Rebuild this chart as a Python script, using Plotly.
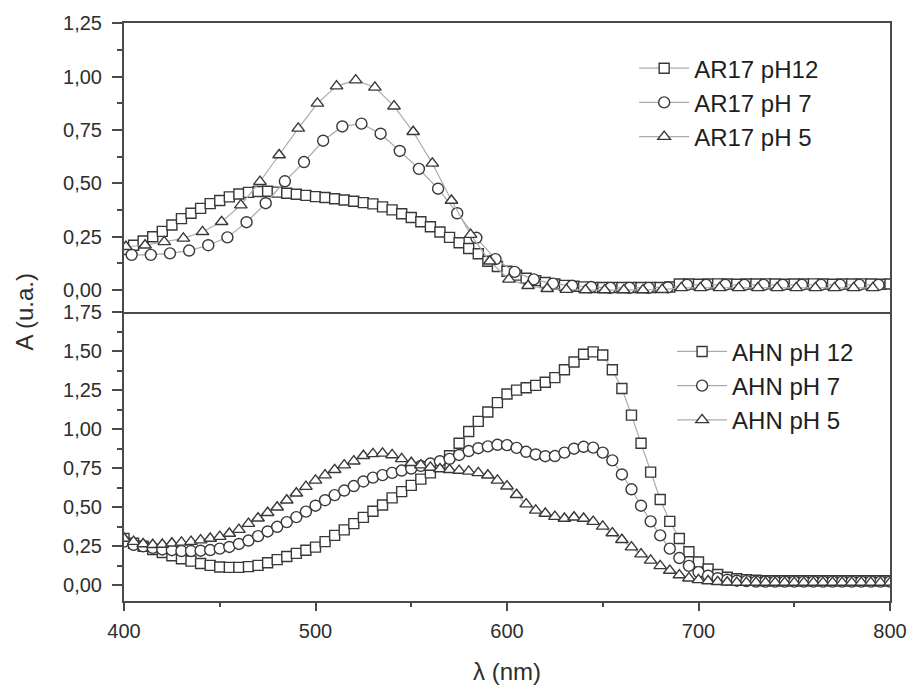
import plotly.graph_objects as go

# ---------------- data ----------------
x_5nm = list(range(400, 801, 5))
x_ar17_ph7 = list(range(404, 795, 10))
x_ar17_ph5 = list(range(401, 792, 10))

ar17_ph12 = [0.19, 0.21, 0.23, 0.25, 0.275, 0.305, 0.335, 0.36, 0.383, 0.405,
             0.42, 0.437, 0.45, 0.458, 0.462, 0.463, 0.459, 0.454, 0.449, 0.444,
             0.438, 0.434, 0.428, 0.422, 0.416, 0.41, 0.404, 0.39, 0.376, 0.358,
             0.34, 0.32, 0.297, 0.272, 0.247, 0.222, 0.195, 0.17, 0.135, 0.11,
             0.088, 0.07, 0.055, 0.044, 0.035, 0.028, 0.022, 0.018, 0.015, 0.012,
             0.012, 0.012, 0.012, 0.012, 0.012, 0.012, 0.012, 0.014, 0.028,
             0.028, 0.027, 0.028, 0.029, 0.028, 0.027, 0.028, 0.028, 0.029, 0.028,
             0.027, 0.028, 0.028, 0.029, 0.028, 0.027, 0.028, 0.028, 0.029, 0.028,
             0.027, 0.028]

ar17_ph7 = [0.165, 0.165, 0.172, 0.185, 0.21, 0.247, 0.318, 0.407, 0.51, 0.60,
            0.70, 0.767, 0.78, 0.733, 0.652, 0.568, 0.475, 0.36, 0.245, 0.145,
            0.085, 0.05, 0.03, 0.02, 0.014, 0.01, 0.01, 0.01, 0.012, 0.024,
            0.024, 0.024, 0.024, 0.024, 0.024, 0.024, 0.024, 0.024, 0.024, 0.024]

ar17_ph5 = [0.203, 0.21, 0.226, 0.242, 0.273, 0.32, 0.398, 0.508, 0.633, 0.758,
            0.875, 0.956, 0.984, 0.95, 0.862, 0.742, 0.594, 0.42, 0.26, 0.135,
            0.05, 0.02, 0.006, 0.002, 0.0, 0.0, 0.0, 0.0, 0.002, 0.01,
            0.01, 0.01, 0.01, 0.01, 0.01, 0.01, 0.01, 0.01, 0.01, 0.01]

ahn_ph12 = [0.30, 0.27, 0.25, 0.23, 0.21, 0.19, 0.17, 0.155, 0.14, 0.128,
            0.118, 0.115, 0.115, 0.12, 0.128, 0.145, 0.165, 0.185, 0.205, 0.225,
            0.245, 0.28, 0.32, 0.355, 0.395, 0.435, 0.475, 0.515, 0.56, 0.60,
            0.64, 0.68, 0.72, 0.77, 0.83, 0.91, 0.985, 1.05, 1.11, 1.17,
            1.225, 1.25, 1.265, 1.28, 1.30, 1.33, 1.38, 1.43, 1.48, 1.495,
            1.475, 1.38, 1.26, 1.09, 0.91, 0.725, 0.55, 0.41, 0.30, 0.215,
            0.15, 0.105, 0.07, 0.052, 0.042, 0.036, 0.033,
            0.03, 0.03, 0.03, 0.03, 0.03, 0.03, 0.03, 0.03, 0.03, 0.03,
            0.03, 0.03, 0.03, 0.03]

ahn_ph7 = [0.28, 0.26, 0.25, 0.24, 0.23, 0.225, 0.22, 0.22, 0.222, 0.226,
           0.235, 0.246, 0.265, 0.287, 0.315, 0.345, 0.375, 0.405, 0.437, 0.472,
           0.51, 0.545, 0.578, 0.607, 0.636, 0.665, 0.69, 0.706, 0.72, 0.735,
           0.748, 0.765, 0.78, 0.795, 0.81, 0.835, 0.86, 0.878, 0.89, 0.90,
           0.898, 0.88, 0.855, 0.838, 0.827, 0.828, 0.85, 0.875, 0.887, 0.882,
           0.85, 0.80, 0.71, 0.615, 0.51, 0.41, 0.32, 0.235, 0.175, 0.125,
           0.085, 0.062, 0.046, 0.036, 0.03, 0.027,
           0.024, 0.024, 0.024, 0.024, 0.024, 0.024, 0.024, 0.024, 0.024, 0.024,
           0.024, 0.024, 0.024, 0.024, 0.024]

ahn_ph5 = [0.30, 0.28, 0.265, 0.26, 0.262, 0.27, 0.275, 0.28, 0.29, 0.30,
           0.312, 0.332, 0.357, 0.395, 0.43, 0.465, 0.50, 0.545, 0.59, 0.632,
           0.672, 0.706, 0.74, 0.77, 0.795, 0.83, 0.842, 0.845, 0.835, 0.81,
           0.785, 0.77, 0.755, 0.745, 0.74, 0.735, 0.73, 0.72, 0.705, 0.672,
           0.635, 0.58, 0.52, 0.48, 0.46, 0.44, 0.428, 0.436, 0.428, 0.408,
           0.378, 0.335, 0.292, 0.245, 0.20, 0.16, 0.125, 0.095, 0.066, 0.046,
           0.035, 0.028, 0.023, 0.02,
           0.018, 0.018, 0.018, 0.018, 0.018, 0.018, 0.018, 0.018, 0.018, 0.018,
           0.018, 0.018, 0.018, 0.018, 0.018, 0.018, 0.018]

x_tickvals = [400, 500, 600, 700, 800]
x_ticktext = ["400", "500", "600", "700", "800"]
x_minor = [450, 550, 650, 750]
top_tickvals = [0.0, 0.25, 0.5, 0.75, 1.0, 1.25]
top_ticktext = ["0,00", "0,25", "0,50", "0,75", "1,00", "1,25"]
top_minor = [0.125, 0.375, 0.625, 0.875, 1.125]
bot_tickvals = [0.0, 0.25, 0.5, 0.75, 1.0, 1.25, 1.5, 1.75]
bot_ticktext = ["0,00", "0,25", "0,50", "0,75", "1,00", "1,25", "1,50", "1,75"]
bot_minor = [0.125, 0.375, 0.625, 0.875, 1.125, 1.375, 1.625]

# ---------------- style ----------------
FONT = "Liberation Sans, Arial, sans-serif"
MK = "#383838"
LN = "#ababab"
AX = "#4a4a4a"


def series(x, y, name, symbol, size, xa, ya, legend):
    return go.Scatter(
        x=x, y=y, name=name, mode="lines+markers",
        xaxis=xa, yaxis=ya, legend=legend,
        line=dict(color=LN, width=1.2),
        marker=dict(symbol=symbol, size=size, color="white",
                    line=dict(color=MK, width=1.4)),
    )


fig = go.Figure()
fig.add_trace(series(x_5nm, ar17_ph12, "AR17 pH12", "square", 10, "x2", "y2", "legend2"))
fig.add_trace(series(x_ar17_ph7, ar17_ph7, "AR17 pH 7", "circle", 11, "x2", "y2", "legend2"))
fig.add_trace(series(x_ar17_ph5, ar17_ph5, "AR17 pH 5", "triangle-up", 11, "x2", "y2", "legend2"))
fig.add_trace(series(x_5nm, ahn_ph12, "AHN pH 12", "square", 10, "x", "y", "legend"))
fig.add_trace(series(x_5nm, ahn_ph7, "AHN pH 7", "circle", 11, "x", "y", "legend"))
fig.add_trace(series(x_5nm, ahn_ph5, "AHN pH 5", "triangle-up", 11, "x", "y", "legend"))

tickfont = dict(family=FONT, size=20, color="#2e2e2e")
common_y = dict(showline=True, linecolor=AX, linewidth=2, mirror=True,
                ticks="outside", ticklen=10, tickwidth=1.5, tickcolor=AX,
                showgrid=False, zeroline=False, tickmode="array",
                tickfont=tickfont, ticklabelstandoff=6, automargin=False)

fig.update_layout(
    width=912, height=687,
    margin=dict(l=124, r=22, t=23, b=86, autoexpand=False),
    paper_bgcolor="white", plot_bgcolor="white",
    showlegend=True,
    xaxis=dict(domain=[0, 1], anchor="y", range=[400, 800],
               showline=True, linecolor=AX, linewidth=2, mirror=False,
               ticks="outside", ticklen=8, tickwidth=1.5, tickcolor=AX,
               tickmode="array", tickvals=x_tickvals, ticktext=x_ticktext,
               minor=dict(tickvals=x_minor, ticks="outside", ticklen=4,
                          tickwidth=1.5, tickcolor=AX),
               showgrid=False, zeroline=False, tickfont=tickfont,
               ticklabelstandoff=3, automargin=False),
    xaxis2=dict(domain=[0, 1], anchor="y2", range=[400, 800], matches="x",
                showline=True, linecolor=AX, linewidth=2, mirror=True,
                ticks="", showticklabels=False, showgrid=False, zeroline=False,
                automargin=False),
    yaxis=dict(domain=[0, 0.5], anchor="x", range=[-0.1, 1.75],
               tickvals=bot_tickvals, ticktext=bot_ticktext,
               minor=dict(tickvals=bot_minor, ticks="outside", ticklen=5,
                          tickwidth=1.5, tickcolor=AX),
               **common_y),
    yaxis2=dict(domain=[0.5, 1], anchor="x2", range=[-0.103, 1.252],
                tickvals=top_tickvals, ticktext=top_ticktext,
                minor=dict(tickvals=top_minor, ticks="outside", ticklen=5,
                           tickwidth=1.5, tickcolor=AX),
                **common_y),
    legend2=dict(x=0.666, y=0.960, xanchor="left", yanchor="top",
                 bgcolor="rgba(0,0,0,0)", itemwidth=50,
                 font=dict(family=FONT, size=24, color="#1e1e1e")),
    legend=dict(x=0.7155, y=0.470, xanchor="left", yanchor="top",
                bgcolor="rgba(0,0,0,0)", itemwidth=50,
                font=dict(family=FONT, size=24, color="#1e1e1e")),
    annotations=[
        dict(text="λ (nm)", xref="paper", yref="paper", x=0.5, y=-0.1228,
             xanchor="center", yanchor="middle", showarrow=False,
             font=dict(family=FONT, size=24, color="#2e2e2e")),
        dict(text="A (u.a.)", xref="paper", yref="paper", x=-0.13, y=0.5,
             xanchor="center", yanchor="middle", showarrow=False, textangle=-90,
             font=dict(family=FONT, size=24, color="#2e2e2e")),
    ],
)

# remove the browser's default 8px body margin so the figure fills the window
fig.write_html(
    "out.html",
    config={"displayModeBar": False},
    post_script="document.body.style.margin='0';document.body.style.overflow='hidden';",
)
